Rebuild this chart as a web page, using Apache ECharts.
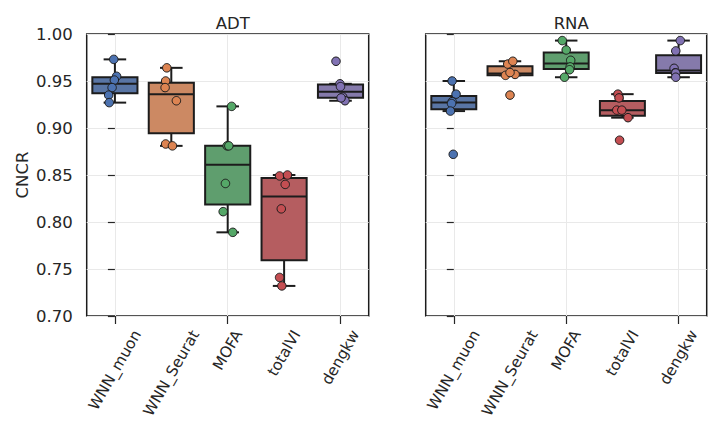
<!DOCTYPE html>
<html>
<head>
<meta charset="utf-8">
<script src="https://cdn.jsdelivr.net/npm/echarts@6/dist/echarts.min.js"></script>
<style>
  html, body { margin: 0; padding: 0; background: #ffffff; }
  #chart { width: 712px; height: 424px; }
</style>
</head>
<body>
<div id="chart"></div>
<script>
// Methods compared on each modality
const categories = ['WNN_muon', 'WNN_Seurat', 'MOFA', 'totalVI', 'dengkw'];
const panelTitles = ['ADT', 'RNA'];
const yAxisName = 'CNCR';

// CNCR scores per method (one value per run)
const adtScores = [
  [0.973, 0.955, 0.951, 0.943, 0.935, 0.927],
  [0.964, 0.950, 0.943, 0.929, 0.883, 0.881],
  [0.923, 0.881, 0.881, 0.841, 0.811, 0.789],
  [0.849, 0.850, 0.840, 0.814, 0.741, 0.732],
  [0.971, 0.947, 0.944, 0.933, 0.929, 0.932]
];
const rnaScores = [
  [0.950, 0.936, 0.928, 0.926, 0.918, 0.872],
  [0.968, 0.971, 0.956, 0.957, 0.935, 0.959],
  [0.993, 0.983, 0.972, 0.965, 0.962, 0.954],
  [0.936, 0.932, 0.919, 0.919, 0.911, 0.887],
  [0.993, 0.982, 0.9635, 0.9588, 0.9585, 0.954]
];

// Horizontal strip jitter, in category units
const adtJitter = [
  [-0.02, 0.03, -0.01, -0.05, -0.11, -0.10],
  [-0.08, -0.10, -0.11, 0.09, -0.10, 0.02],
  [0.07, -0.01, 0.02, -0.04, -0.08, 0.09],
  [-0.08, 0.06, 0.02, -0.05, -0.08, -0.04],
  [-0.08, -0.01, 0.00, 0.04, 0.08, 0.01]
];
const rnaJitter = [
  [-0.03, 0.04, -0.03, -0.04, -0.06, -0.01],
  [-0.04, 0.05, -0.08, 0.09, 0.00, 0.00],
  [-0.07, 0.00, 0.08, 0.07, 0.06, -0.03],
  [-0.08, -0.06, -0.10, -0.01, 0.10, -0.05],
  [0.03, -0.05, -0.08, -0.06, -0.05, -0.05]
];

const yMin = 0.70, yMax = 1.00, yStep = 0.05;

const boxColors = ['#5975a4', '#cc8963', '#5f9e6e', '#b55d60', '#857aab'];
const pointColors = ['#4c72b0', '#dd8452', '#55a868', '#c44e52', '#8172b3'];

const FONT = 'DejaVu Sans';
const TEXT = '#262626';
const EDGE = '#1c1c1c';
const TICK_FS = 16.5;
const XLABEL_FS = 15.3;

function quantile(sorted, p) {
  const pos = (sorted.length - 1) * p;
  const lo = Math.floor(pos), hi = Math.ceil(pos);
  return sorted[lo] + (sorted[hi] - sorted[lo]) * (pos - lo);
}

// Tukey box statistics: whiskers reach the furthest points within 1.5 IQR
function boxStats(vals) {
  const s = vals.slice().sort((a, b) => a - b);
  const q1 = quantile(s, 0.25), med = quantile(s, 0.5), q3 = quantile(s, 0.75);
  const iqr = q3 - q1;
  const inside = s.filter(v => v >= q1 - 1.5 * iqr && v <= q3 + 1.5 * iqr);
  return [inside[0], q1, med, q3, inside[inside.length - 1]];
}

const measureCtx = document.createElement('canvas').getContext('2d');
measureCtx.font = XLABEL_FS + 'px "' + FONT + '"';
function textWidth(t) { return measureCtx.measureText(t).width; }

function renderBox(params, api) {
  const i = api.value(0);
  const c = api.coord([i, api.value(3)]);
  const x = c[0];
  const yLo = api.coord([i, api.value(1)])[1];
  const yQ1 = api.coord([i, api.value(2)])[1];
  const yMed = c[1];
  const yQ3 = api.coord([i, api.value(4)])[1];
  const yHi = api.coord([i, api.value(5)])[1];
  const half = api.size([0.8, 0])[0] / 2;
  const cap = half / 2;
  const ls = { stroke: EDGE, lineWidth: 2, fill: null };
  return {
    type: 'group',
    children: [
      { type: 'line', shape: { x1: x, y1: yQ3, x2: x, y2: yHi }, style: ls },
      { type: 'line', shape: { x1: x, y1: yQ1, x2: x, y2: yLo }, style: ls },
      { type: 'line', shape: { x1: x - cap, y1: yHi, x2: x + cap, y2: yHi }, style: ls },
      { type: 'line', shape: { x1: x - cap, y1: yLo, x2: x + cap, y2: yLo }, style: ls },
      { type: 'rect', shape: { x: x - half, y: yQ3, width: 2 * half, height: yQ1 - yQ3 },
        style: { fill: boxColors[i], stroke: EDGE, lineWidth: 2 } },
      { type: 'line', shape: { x1: x - half, y1: yMed, x2: x + half, y2: yMed }, style: ls }
    ]
  };
}

// Rotated category labels, centred under each tick like matplotlib's ha='center'
function renderLabel(params, api) {
  const i = api.value(0);
  const base = api.coord([i, yMin]);
  const name = categories[i];
  const L = textWidth(name);
  const h = XLABEL_FS * 1.17;
  return {
    type: 'text',
    x: base[0] + 0.25 * L,
    y: base[1] + 11 + 0.25 * h,
    rotation: Math.PI / 3,
    style: {
      text: name, fill: TEXT, font: XLABEL_FS + 'px "' + FONT + '"',
      align: 'right', verticalAlign: 'middle'
    }
  };
}

const grids = [
  { left: 86.7, top: 34, width: 282, height: 282 },
  { left: 425.7, top: 34, width: 281, height: 282 }
];

const xAxes = [], yAxes = [], series = [], titles = [];
[adtScores, rnaScores].forEach((scores, g) => {
  const jitter = g === 0 ? adtJitter : rnaJitter;
  xAxes.push({
    type: 'category', gridIndex: g, data: categories, boundaryGap: true,
    axisLine: { show: false },
    axisTick: { show: true, alignWithLabel: true, inside: false, length: 8, lineStyle: { color: TEXT, width: 1.2 } },
    axisLabel: { show: false },
    splitLine: { show: true, alignWithLabel: true, lineStyle: { color: '#e9e9e9', width: 1 } }
  });
  xAxes.push({ type: 'value', gridIndex: g, min: -0.5, max: 4.5, show: false });
  yAxes.push({
    type: 'value', gridIndex: g, min: yMin, max: yMax, interval: yStep,
    name: g === 0 ? yAxisName : '', nameLocation: 'middle', nameGap: 56,
    nameTextStyle: { fontFamily: FONT, fontSize: 16.5, color: TEXT },
    axisLine: { show: false },
    axisTick: { show: true, inside: false, length: 7, lineStyle: { color: TEXT, width: 1.2 } },
    axisLabel: { show: g === 0, fontFamily: FONT, fontSize: TICK_FS, color: TEXT, margin: 14,
      formatter: v => v.toFixed(2) },
    splitLine: { show: true, lineStyle: { color: '#e9e9e9', width: 1 } }
  });
  const valueAxis = g * 2 + 1;
  series.push({
    type: 'custom', xAxisIndex: valueAxis, yAxisIndex: g, z: 2,
    renderItem: renderBox, encode: { x: 0, y: [1, 2, 3, 4, 5] },
    data: scores.map((vals, i) => [i].concat(boxStats(vals)))
  });
  const pts = [];
  scores.forEach((vals, i) => vals.forEach((v, k) => {
    pts.push({ value: [i + jitter[i][k], v], itemStyle: { color: pointColors[i] } });
  }));
  series.push({
    type: 'scatter', xAxisIndex: valueAxis, yAxisIndex: g, z: 3,
    symbol: 'circle', symbolSize: 8.5,
    itemStyle: { borderColor: EDGE, borderWidth: 1, opacity: 1 },
    data: pts
  });
  series.push({
    type: 'custom', xAxisIndex: valueAxis, yAxisIndex: g, z: 4, clip: false,
    renderItem: renderLabel, encode: { x: 0 },
    data: categories.map((c, i) => [i])
  });
  titles.push({
    text: panelTitles[g],
    left: grids[g].left + grids[g].width / 2, top: 10, textAlign: 'center',
    textStyle: { fontFamily: FONT, fontSize: 16.5, fontWeight: 'normal', color: TEXT }
  });
});

const chart = echarts.init(document.getElementById('chart'), null, { renderer: 'svg' });
chart.setOption({
  animation: false,
  backgroundColor: '#ffffff',
  title: titles,
  grid: grids.map(g => Object.assign({ show: true, borderColor: EDGE, borderWidth: 1.5,
    backgroundColor: 'transparent' }, g)),
  xAxis: xAxes,
  yAxis: yAxes,
  series: series
});
</script>
</body>
</html>
